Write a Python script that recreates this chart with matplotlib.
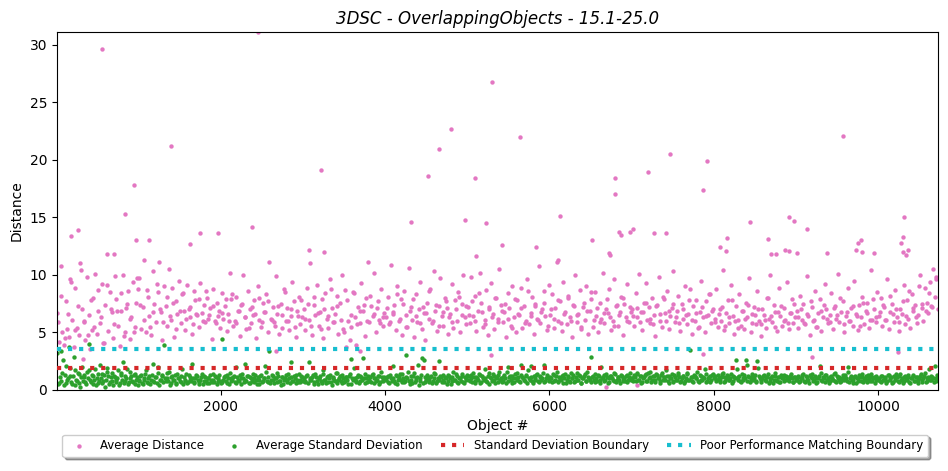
import numpy as np
import matplotlib
matplotlib.use("Agg")
import matplotlib.pyplot as plt

# object numbering of the sampled points
obj_first = 5
obj_last = 10730

# average distance in blocks of 1000 objects (objects 10, 30, 50, ...)
avg_dist = [
    6.7, 4.2, 10.8, 5.0, 3.9, 7.7, 5.3, 4.6, 9.6, 6.1, 3.7, 8.9, 5.4, 4.8, 11.0, 7.0, 5.9, 4.3, 9.8, 6.5,
    3.6, 5.2, 8.0, 10.1, 4.9, 6.9, 5.8, 9.2, 4.1, 7.4, 11.8, 5.1, 8.5, 6.8, 4.5, 9.9, 7.9, 5.6, 3.8, 6.9,
    10.0, 5.0, 7.1, 8.6, 4.4, 6.3, 9.4, 5.5, 7.6, 8.8,
    9.7, 5.3, 7.2, 11.3, 5.0, 8.1, 6.4, 4.8, 10.3, 7.5, 5.9, 8.5, 11.1, 6.8, 4.3, 9.0, 7.3, 5.6, 10.5, 6.1,
    8.9, 4.6, 7.7, 6.6, 9.5, 5.8, 8.3, 6.9, 5.2, 9.1, 7.0, 6.3, 4.9, 8.6, 7.8, 6.5, 5.5, 9.3, 6.7, 7.4,
    5.9, 8.0, 6.2, 7.1, 4.4, 8.8, 6.0, 7.6, 6.4, 5.4,
    8.4, 6.2, 7.3, 5.1, 6.6, 10.2, 7.9, 5.6, 6.0, 8.1, 6.9, 4.7, 7.4, 10.0, 6.3, 5.3, 8.6, 7.0, 5.8, 6.5,
    7.8, 4.5, 9.0, 6.1, 5.5, 7.6, 6.8, 8.3, 5.0, 11.1, 6.2, 7.2, 5.9, 9.9, 6.6, 4.9, 7.5, 5.4, 8.8, 6.0,
    7.1, 5.2, 6.4, 9.4, 7.7, 4.6, 6.9, 8.1, 5.7, 6.3,
    7.0, 5.2, 8.9, 6.1, 11.0, 4.8, 7.4, 6.5, 9.1, 5.6, 6.8, 7.9, 4.5, 8.4, 6.2, 5.4, 9.6, 7.1, 5.9, 6.6,
    8.2, 4.9, 7.6, 10.0, 5.3, 8.7, 3.7, 6.0, 4.3, 5.5, 8.5, 6.3, 3.9, 7.2, 5.8, 9.3, 6.9, 4.7, 8.0, 11.1,
    5.9, 7.3, 6.4, 10.2, 5.0, 7.7, 6.1, 8.8, 5.6, 6.7,
    6.3, 8.1, 5.7, 10.9, 6.8, 7.4, 5.2, 9.0, 6.0, 7.9, 4.8, 8.6, 6.5, 5.5, 10.6, 7.2, 6.1, 4.6, 8.3, 5.9,
    7.0, 9.4, 5.3, 6.7, 4.3, 7.6, 6.2, 8.8, 5.8, 10.3, 6.9, 5.1, 7.3, 9.7, 6.4, 5.6, 8.0, 7.1, 4.9, 6.6,
    9.2, 5.4, 7.8, 6.0, 8.5, 5.0, 7.5, 10.0, 6.3, 5.7,
    7.2, 5.8, 9.8, 6.4, 8.2, 5.1, 6.9, 10.2, 7.6, 5.5, 6.1, 8.7, 4.8, 7.0, 9.3, 6.6, 5.3, 8.0, 6.2, 10.5,
    7.4, 5.9, 6.8, 4.6, 8.4, 7.1, 5.6, 9.0, 6.3, 5.0, 7.8, 6.5, 8.9, 5.4, 7.3, 6.0, 9.6, 5.7, 6.7, 8.1,
    4.9, 7.5, 6.2, 10.8, 5.8, 7.0, 8.6, 6.4, 5.2, 9.1,
    6.5, 8.3, 5.4, 7.1, 11.1, 6.0, 7.7, 5.1, 9.4, 6.8, 5.7, 8.0, 6.3, 4.6, 7.4, 10.0, 5.9, 6.6, 8.7, 5.3,
    7.2, 6.1, 9.0, 4.9, 6.9, 7.9, 5.5, 8.5, 6.4, 5.0, 7.6, 6.2, 10.2, 5.8, 7.0, 6.7, 8.8, 5.2, 6.0, 9.6,
    7.3, 5.6, 6.5, 8.1, 4.8, 7.5, 6.3, 9.2, 5.9, 6.8,
    7.0, 5.6, 8.4, 6.3, 10.1, 6.8, 5.2, 7.6, 9.3, 6.1, 7.2, 5.8, 8.0, 6.5, 4.7, 7.4, 9.8, 6.0, 5.5, 7.9,
    6.7, 8.6, 5.3, 6.4, 7.1, 10.3, 5.9, 6.9, 8.2, 5.1, 7.5, 6.2, 9.0, 5.7, 6.6, 8.8, 4.9, 7.3, 6.0, 7.8,
    5.4, 6.8, 9.5, 6.3, 5.0, 7.7, 6.5, 8.3, 5.8, 7.0,
    6.2, 8.8, 5.5, 7.0, 6.0, 10.4, 5.2, 6.7, 7.8, 5.8, 9.1, 6.4, 4.9, 7.3, 6.1, 8.3, 5.6, 6.9, 5.3, 7.6,
    6.3, 9.7, 5.0, 6.6, 7.2, 5.7, 8.6, 6.0, 4.7, 7.0, 6.5, 5.4, 8.0, 6.2, 10.0, 5.9, 7.4, 6.8, 5.1, 8.9,
    6.4, 5.6, 7.1, 6.1, 9.4, 5.3, 6.7, 7.9, 5.8, 6.3,
    6.9, 5.4, 8.2, 6.1, 7.5, 5.7, 9.9, 6.4, 4.8, 7.2, 6.0, 8.6, 5.5, 6.7, 7.9, 5.1, 6.3, 9.2, 7.0, 5.8,
    6.5, 8.4, 5.3, 7.3, 6.2, 10.1, 5.9, 6.8, 7.7, 5.0, 6.4, 8.9, 6.0, 7.1, 5.6, 9.5, 6.6, 5.2, 7.4, 6.3,
    8.1, 5.7, 6.9, 7.6, 5.4, 10.4, 6.1, 7.0, 5.9, 8.5,
    6.4, 8.0, 5.6, 7.2, 6.1, 9.6, 5.3, 6.8, 7.5, 5.9, 8.7, 6.3, 5.1, 7.0, 6.6, 9.1, 5.7, 7.8, 6.2, 5.4,
    8.3, 6.9, 7.4, 5.8, 6.5, 10.0, 7.1, 6.0, 8.9, 7.6, 6.7, 9.4, 7.3, 10.5, 8.1, 9.8, 7.0,
]

# further average-distance points of the dense core (objects 20, 60, 100, ...)
avg_dist_core = [
    5.9, 8.2, 4.5, 6.6, 9.4, 5.2, 7.3, 10.4, 6.0, 4.8, 7.8, 5.5, 8.7, 6.3, 4.1, 9.1, 7.0, 5.7, 6.9, 8.4,
    4.7, 7.5, 6.2, 5.0, 9.7,
    7.4, 6.1, 8.7, 5.5, 6.8, 9.2, 7.0, 5.9, 8.1, 6.4, 7.6, 5.3, 6.9, 8.4, 6.2, 7.2, 5.7, 6.6, 7.9, 6.0,
    8.6, 6.5, 7.3, 5.8, 6.9,
    6.7, 7.9, 6.0, 8.3, 5.8, 6.9, 7.5, 6.3, 5.4, 7.2, 6.6, 8.0, 5.9, 6.8, 7.7, 6.1, 5.6, 7.3, 6.5, 8.5,
    6.0, 7.0, 5.5, 6.4, 7.8,
    6.2, 7.5, 5.6, 8.1, 6.7, 5.3, 7.0, 6.4, 8.8, 5.9, 7.3, 6.1, 5.0, 7.8, 6.5, 8.4, 5.7, 6.9, 7.4, 6.0,
    8.2, 6.6, 7.1, 5.8, 6.3,
    7.1, 5.9, 6.6, 8.3, 6.2, 7.5, 5.5, 6.9, 7.9, 6.4, 5.8, 7.2, 6.7, 8.6, 6.0, 7.4, 5.6, 6.8, 7.7, 6.3,
    5.9, 7.0, 8.1, 6.5, 7.3,
    6.5, 7.7, 6.0, 8.4, 6.8, 5.7, 7.2, 6.3, 8.0, 5.9, 6.9, 7.5, 6.2, 5.4, 7.9, 6.6, 7.1, 5.8, 8.6, 6.4,
    7.3, 6.1, 6.8, 7.6, 5.6,
    7.0, 6.2, 7.8, 5.8, 6.6, 8.2, 6.0, 7.3, 6.5, 5.5, 7.6, 6.9, 8.5, 6.1, 7.1, 5.9, 6.7, 7.9, 6.3, 5.6,
    7.4, 6.8, 8.0, 6.0, 7.2,
    6.4, 7.1, 5.9, 6.8, 7.6, 6.2, 5.7, 7.3, 6.6, 8.1, 6.0, 6.9, 7.5, 6.3, 5.8, 7.0, 6.5, 7.8, 6.1, 6.7,
    5.5, 7.2, 6.4, 8.3, 6.9,
    5.9, 6.6, 7.2, 5.6, 6.3, 7.8, 6.0, 5.4, 6.9, 6.2, 7.4, 5.8, 6.5, 7.0, 5.7, 6.1, 8.0, 6.4, 5.5, 6.8,
    7.3, 6.0, 5.8, 6.7, 7.5,
    6.3, 7.0, 5.8, 6.6, 7.7, 6.1, 5.5, 6.9, 7.4, 6.2, 5.9, 7.1, 6.5, 8.0, 5.7, 6.8, 6.0, 7.3, 6.4, 5.6,
    7.6, 6.7, 6.1, 7.9, 6.3,
    6.8, 7.4, 6.1, 8.2, 6.6, 7.0, 5.9, 7.7, 6.4, 8.6, 7.1, 6.3, 9.0, 7.5, 6.9, 8.4, 7.2, 9.6,
]

# isolated average-distance points (high outliers and a few low ones)
dist_extra_obj = [177, 262, 554, 700, 834, 944, 968, 1127, 1395, 1626, 1748, 1967, 2381, 2454,
                  3075, 3222, 3258, 4318, 4525, 4659, 4805, 4976, 5098, 5110, 5231, 5305,
                  5426, 5646, 5840, 6108, 6133, 6522, 6730, 6742, 6803, 6803, 6851, 6876,
                  6985, 7022, 7205, 7278, 7424, 7473, 7875, 7923, 8082, 8155, 8167, 8447,
                  8666, 8702, 8763, 8873, 8910, 8910, 8971, 9008, 9141, 9373, 9568, 9727,
                  9752, 9788, 9800, 9946, 10274, 10298, 10298, 10311, 10334, 10370,
                  320, 2670, 3700, 5285, 6690, 7063, 7871, 9195, 10242]
dist_extra_val = [13.4, 13.9, 29.6, 11.8, 15.3, 17.8, 13.0, 13.0, 21.2, 12.7, 13.6, 13.6, 14.2, 31.1,
                  12.2, 19.1, 12.0, 14.6, 18.6, 20.9, 22.7, 14.8, 18.4, 11.6, 14.5, 26.8,
                  12.6, 22.0, 12.4, 11.3, 15.1, 13.0, 11.9, 11.7, 18.4, 17.0, 13.7, 13.5,
                  13.7, 14.0, 18.9, 13.6, 13.6, 20.5, 17.4, 19.9, 12.4, 12.1, 13.2, 14.6,
                  13.1, 11.8, 11.8, 12.2, 15.0, 12.1, 14.7, 11.9, 14.0, 11.9, 22.1, 12.2,
                  12.8, 13.0, 12.0, 11.9, 12.8, 13.3, 12.0, 15.0, 11.7, 12.2,
                  2.7, 3.4, 3.4, 3.0, 0.3, 0.4, 3.1, 2.9, 3.3]

# average standard deviation (objects 10, 30, 50, ...)
avg_std = [
    3.2, 0.6, 3.4, 1.5, 0.4, 2.1, 0.9, 3.7, 1.2, 0.5, 2.9, 1.7, 0.8, 1.4, 0.3, 2.0, 1.1, 0.7, 1.6, 4.0,
    0.9, 1.3, 0.5, 1.8, 1.0, 0.6, 2.2, 1.4, 0.8, 0.3, 1.9, 1.2, 0.7, 1.5, 0.4, 1.1, 0.9, 1.7, 0.6, 1.3,
    2.4, 0.8, 1.0, 0.5, 1.6, 1.2, 0.7, 1.4, 0.9, 0.4,
    0.8, 1.3, 0.5, 1.0, 1.7, 0.6, 1.2, 0.9, 2.3, 0.7, 1.1, 1.5, 0.4, 0.9, 1.3, 3.9, 0.8, 1.0, 1.6, 0.6,
    1.2, 0.9, 0.5, 1.4, 1.0, 0.7, 1.8, 1.1, 0.8, 0.6, 1.3, 0.9, 2.3, 0.7, 1.0, 1.2, 0.5, 0.9, 1.4, 0.8,
    1.1, 0.6, 1.0, 1.3, 0.7, 0.9, 1.2, 0.5, 1.0, 0.8,
    4.4, 0.9, 1.2, 0.6, 1.0, 1.5, 0.8, 1.1, 0.7, 2.0, 0.9, 1.3, 0.5, 1.0, 2.3, 0.8, 1.2, 0.6, 1.0, 1.4,
    0.7, 0.9, 1.1, 0.5, 1.3, 0.8, 1.0, 1.6, 0.7, 3.4, 0.9, 1.2, 0.6, 1.0, 1.5, 0.8, 0.4, 1.1, 0.9, 1.3,
    0.7, 1.0, 2.4, 0.8, 1.2, 0.6, 0.9, 1.4, 0.7, 1.1,
    1.0, 0.7, 1.3, 2.4, 0.9, 1.1, 0.5, 1.4, 0.8, 1.0, 1.2, 0.6, 1.7, 0.9, 1.1, 0.7, 1.3, 0.4, 1.0, 0.8,
    1.5, 0.9, 1.2, 0.6, 1.0, 0.8, 1.1, 0.5, 1.4, 2.7, 0.9, 1.0, 0.7, 1.3, 0.8, 1.1, 2.8, 0.6, 1.0, 1.2,
    0.9, 0.7, 1.4, 1.0, 0.8, 1.2, 0.5, 1.6, 0.9, 1.1,
    0.9, 1.2, 0.6, 1.0, 2.1, 0.8, 1.3, 0.5, 1.1, 0.9, 1.4, 0.7, 3.0, 1.0, 0.8, 1.2, 0.6, 1.5, 0.9, 1.1,
    0.4, 1.0, 2.8, 2.6, 0.7, 1.3, 0.9, 1.1, 0.6, 1.0, 1.4, 0.8, 2.5, 1.2, 0.7, 0.9, 1.1, 0.5, 1.3, 1.0,
    0.8, 1.6, 0.9, 1.2, 0.6, 1.0, 1.4, 0.7, 1.1, 0.9,
    1.2, 0.8, 1.0, 1.5, 0.6, 1.1, 0.9, 1.3, 0.7, 1.0, 1.8, 0.8, 1.2, 0.5, 1.0, 1.4, 0.9, 1.1, 0.7, 1.6,
    1.0, 0.8, 1.3, 0.6, 2.0, 1.1, 0.9, 1.2, 0.7, 1.0, 1.5, 0.8, 2.2, 1.1, 0.9, 1.3, 0.6, 1.0, 2.1, 0.8,
    1.2, 0.9, 1.4, 0.7, 1.1, 1.0, 2.2, 0.8, 1.3, 0.9,
    1.1, 0.7, 1.3, 0.9, 1.6, 0.8, 1.0, 1.2, 0.6, 1.4, 0.9, 1.1, 0.7, 1.0, 1.3, 0.8, 1.5, 0.9, 1.2, 0.6,
    1.0, 1.4, 0.8, 1.1, 0.9, 2.9, 1.2, 0.7, 1.0, 1.3, 0.9, 2.0, 1.1, 0.8, 1.4, 0.6, 1.0, 1.2, 0.9, 1.5,
    0.7, 1.1, 0.9, 1.3, 0.8, 1.0, 1.2, 0.7, 1.1, 0.9,
    1.0, 1.3, 0.8, 1.5, 0.9, 1.2, 0.7, 1.1, 1.4, 0.8, 1.0, 1.6, 0.9, 1.2, 0.7, 1.3, 1.0, 0.8, 1.5, 1.1,
    0.9, 1.2, 0.6, 1.0, 1.4, 0.8, 1.1, 0.9, 1.3, 0.7, 1.0, 1.2, 0.8, 1.5, 0.9, 3.5, 1.1, 0.7, 1.2, 1.0,
    0.8, 1.3, 0.9, 1.1, 1.8, 0.7, 1.0, 1.2, 0.9, 1.4,
    1.0, 0.8, 1.3, 0.9, 1.1, 1.5, 0.7, 1.0, 1.2, 0.9, 1.4, 0.8, 1.1, 2.6, 0.9, 1.2, 0.7, 1.0, 1.3, 2.6,
    0.8, 1.1, 0.9, 1.4, 1.0, 0.7, 2.5, 1.2, 0.9, 1.0, 1.3, 0.8, 1.1, 0.6, 1.0, 1.2, 0.9, 1.5, 0.8, 1.1,
    0.7, 1.0, 1.3, 0.9, 1.1, 0.8, 1.2, 1.0, 0.7, 1.1,
    0.9, 1.2, 0.8, 1.0, 1.4, 0.7, 1.1, 0.9, 1.3, 1.0, 0.8, 1.2, 0.6, 1.0, 2.1, 0.9, 1.1, 0.7, 1.3, 1.0,
    0.8, 1.2, 0.9, 1.5, 0.7, 1.0, 1.1, 0.8, 1.3, 0.9, 1.0, 2.0, 0.7, 1.2, 0.9, 1.1, 0.6, 1.0, 1.3, 0.8,
    1.1, 0.9, 1.2, 0.7, 1.0, 1.4, 0.8, 1.1, 0.9, 1.0,
    1.0, 0.7, 1.2, 0.9, 1.1, 0.8, 1.3, 1.0, 0.6, 1.2, 0.9, 1.1, 0.7, 1.4, 1.0, 0.8, 1.2, 0.9, 1.1, 0.6,
    1.0, 1.3, 0.8, 1.1, 0.9, 1.2, 0.7, 1.0, 1.5, 0.8, 1.1, 0.9, 1.2, 1.0, 2.1, 0.8, 1.0,
]

# average standard deviation (objects 20, 40, 60, ...)
avg_std_b = [
    0.5, 1.1, 0.8, 2.6, 1.3, 0.6, 1.0, 1.9, 0.7, 1.2, 0.4, 0.9, 1.5, 0.6, 1.1, 0.8, 1.3, 0.5, 1.0, 1.7,
    0.7, 1.2, 0.9, 0.4, 1.4, 0.8, 1.0, 0.6, 1.3, 0.9, 1.6, 0.5, 1.1, 0.8, 1.2, 0.7, 1.0, 0.4, 1.5, 0.9,
    0.6, 1.2, 1.8, 0.7, 1.0, 0.8, 1.3, 0.5, 1.1, 0.9,
    1.2, 0.6, 0.9, 1.4, 0.7, 1.0, 0.5, 1.3, 0.8, 1.1, 0.6, 2.0, 0.9, 1.2, 0.7, 1.0, 1.5, 0.8, 0.4, 1.1,
    0.9, 1.3, 0.6, 1.0, 0.8, 1.2, 0.5, 0.9, 1.4, 0.7, 1.1, 0.8, 1.0, 0.6, 1.3, 0.9, 0.7, 1.1, 0.5, 1.2,
    0.8, 1.0, 0.6, 0.9, 1.4, 0.7, 1.1, 0.8, 1.3, 0.6,
    0.7, 1.1, 0.8, 1.3, 0.5, 1.0, 0.9, 1.2, 0.6, 1.1, 0.8, 1.0, 1.4, 0.7, 0.9, 1.2, 0.6, 1.1, 0.8, 1.0,
    1.3, 0.5, 0.9, 1.2, 0.7, 1.0, 2.1, 0.8, 1.1, 0.6, 1.3, 0.9, 1.0, 0.7, 1.2, 0.8, 1.1, 0.5, 1.0, 0.9,
    1.4, 0.6, 1.1, 0.8, 1.0, 1.3, 0.7, 0.9, 1.2, 0.8,
    0.8, 1.2, 0.6, 1.0, 0.9, 1.3, 0.7, 1.1, 0.5, 1.0, 0.8, 1.4, 0.9, 0.6, 1.2, 1.0, 0.7, 1.1, 0.9, 1.5,
    0.6, 1.0, 0.8, 1.3, 0.7, 1.1, 0.9, 1.2, 0.5, 1.0, 1.9, 0.8, 1.1, 0.6, 1.2, 0.9, 1.0, 1.4, 0.7, 0.8,
    1.1, 1.3, 0.6, 1.0, 0.9, 1.2, 0.7, 1.1, 0.8, 1.0,
    1.1, 0.7, 1.3, 0.8, 1.0, 0.6, 1.2, 0.9, 1.4, 0.7, 1.0, 0.8, 1.1, 1.6, 0.5, 0.9, 1.2, 0.7, 1.0, 2.2,
    0.8, 1.3, 0.6, 1.1, 0.9, 1.0, 0.7, 1.2, 0.8, 1.5, 0.6, 1.0, 0.9, 1.1, 1.3, 0.7, 1.0, 0.8, 1.2, 0.5,
    1.1, 0.9, 1.4, 0.7, 1.0, 0.8, 1.2, 0.6, 1.0, 1.3,
    0.9, 1.3, 0.7, 1.1, 0.8, 1.0, 1.4, 0.6, 1.2, 0.9, 1.0, 0.7, 1.5, 1.1, 0.8, 1.2, 0.6, 1.0, 1.3, 0.9,
    0.7, 1.1, 1.0, 1.6, 0.8, 1.2, 0.6, 1.0, 1.4, 0.9, 1.1, 0.7, 1.3, 1.0, 0.8, 1.2, 1.7, 0.9, 1.1, 0.6,
    1.0, 1.3, 0.8, 1.2, 0.9, 1.5, 0.7, 1.0, 1.1, 0.8,
    1.0, 1.4, 0.8, 1.2, 0.7, 1.1, 0.9, 1.3, 1.0, 0.6, 1.2, 0.8, 1.5, 1.0, 0.7, 1.1, 0.9, 1.3, 0.6, 1.0,
    1.2, 0.8, 1.6, 1.0, 0.7, 1.1, 0.9, 1.4, 0.8, 1.2, 0.6, 1.0, 1.3, 0.9, 1.1, 0.7, 1.2, 1.0, 0.8, 1.4,
    0.9, 1.1, 0.6, 1.2, 1.0, 0.8, 1.3, 0.9, 1.5, 1.0,
    0.8, 1.1, 1.4, 0.9, 1.2, 0.6, 1.0, 1.3, 0.8, 1.5, 1.1, 0.7, 1.2, 0.9, 1.4, 1.0, 0.6, 1.3, 0.9, 1.1,
    1.7, 0.8, 1.2, 1.0, 0.7, 1.3, 0.9, 1.5, 1.1, 0.8, 1.2, 0.6, 1.0, 1.4, 0.9, 1.1, 0.8, 1.3, 1.0, 1.6,
    0.7, 1.2, 0.9, 1.0, 1.4, 0.8, 1.1, 0.7, 1.3, 1.0,
    1.2, 0.9, 1.0, 0.7, 1.4, 1.1, 0.8, 1.3, 0.9, 1.0, 0.6, 1.2, 1.0, 1.8, 1.1, 0.8, 1.4, 0.9, 1.0, 2.2,
    1.2, 0.7, 1.1, 0.9, 1.3, 0.8, 1.9, 1.0, 0.7, 1.2, 0.9, 1.1, 1.4, 0.8, 1.0, 0.6, 1.2, 0.9, 1.1, 0.7,
    1.3, 1.0, 0.8, 1.2, 0.9, 1.0, 1.4, 0.7, 1.1, 0.9,
    1.1, 0.7, 1.0, 1.3, 0.8, 1.2, 0.9, 0.6, 1.1, 1.4, 0.9, 1.0, 0.7, 1.2, 1.5, 0.8, 1.0, 1.3, 0.9, 0.6,
    1.1, 1.0, 1.4, 0.8, 1.2, 0.9, 0.7, 1.0, 1.1, 1.3, 0.8, 1.6, 1.0, 0.9, 0.6, 1.2, 1.0, 0.8, 1.1, 1.4,
    0.7, 1.0, 0.9, 1.3, 0.8, 1.1, 1.0, 0.6, 1.2, 0.9,
    0.8, 1.2, 0.9, 1.0, 0.6, 1.3, 0.9, 1.1, 0.7, 1.0, 1.4, 0.8, 1.2, 0.9, 0.6, 1.1, 1.0, 1.3, 0.7, 1.0,
    1.2, 0.8, 1.1, 0.6, 1.0, 1.4, 0.9, 1.2, 0.7, 1.0, 1.8, 0.9, 1.1, 0.7, 1.0, 1.3,
]

std_boundary = 1.94
poor_boundary = 3.6

objects = np.arange(10, obj_last + 1, 20)[:len(avg_dist)]
objects_core = np.arange(20, obj_last + 1, 40)[:len(avg_dist_core)]
objects_b = np.arange(20, obj_last + 1, 20)[:len(avg_std_b)]

dist_x = np.concatenate([objects, objects_core, dist_extra_obj])
dist_y = np.concatenate([avg_dist, avg_dist_core, dist_extra_val])
std_x = np.concatenate([objects[:len(avg_std)], objects_b])
std_y = np.concatenate([avg_std, avg_std_b])

fig = plt.figure(figsize=(9.48, 4.71), dpi=100)
ax = fig.add_axes([0.060, 0.172, 0.9295, 0.760])

ax.scatter(dist_x, dist_y, s=10, color="tab:pink", linewidths=0,
           label="Average Distance", zorder=2)
ax.scatter(std_x, std_y, s=10, color="tab:green", linewidths=0,
           label="Average Standard Deviation", zorder=2)
ax.plot([obj_first, obj_last], [std_boundary, std_boundary], ":", color="tab:red", lw=3,
        label="Standard Deviation Boundary", zorder=3)
ax.plot([obj_first, obj_last], [poor_boundary, poor_boundary], ":", color="tab:cyan", lw=3,
        label="Poor Performance Matching Boundary", zorder=3)

ax.set_xlim(obj_first, obj_last)
ax.set_ylim(0, 31.1)
ax.set_title("3DSC - OverlappingObjects - 15.1-25.0", style="italic", fontsize=12)
ax.set_xlabel("Object #")
ax.set_ylabel("Distance")

ax.legend(loc="upper center", bbox_to_anchor=(0.4975, -0.108), ncol=4, fontsize=8.5,
          shadow=True, scatterpoints=1, frameon=True, handlelength=2.0, columnspacing=1.55)

fig.savefig("out.png", dpi=100)
